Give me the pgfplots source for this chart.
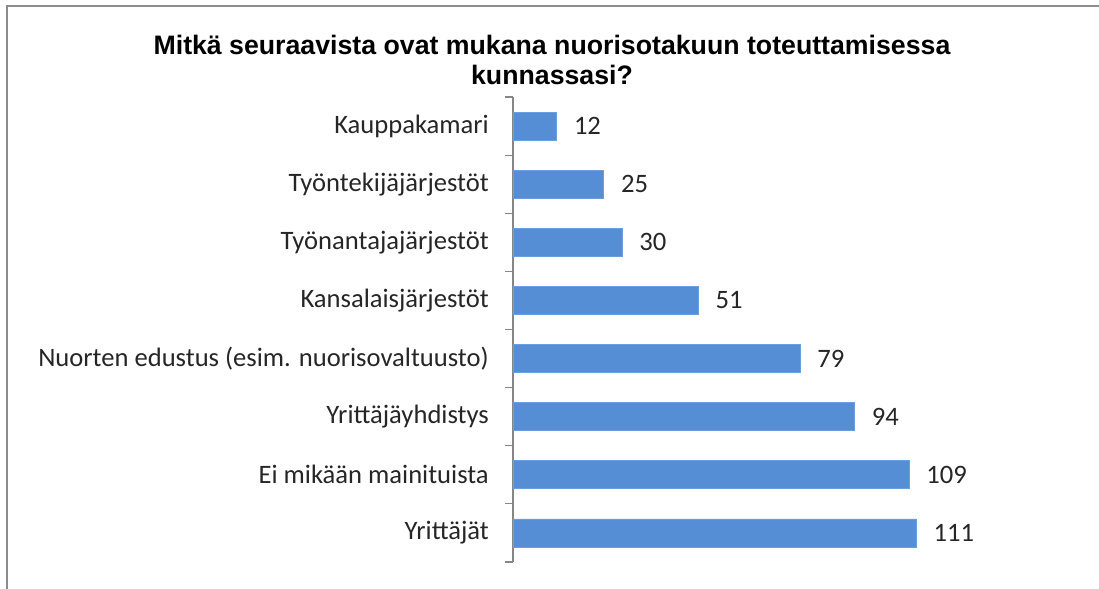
\documentclass[border=0pt]{standalone}
\usepackage{pgfplots}
\pgfplotsset{compat=1.18}
\usepackage{fontspec}
\setmainfont{Carlito}
\newfontfamily\titlefont{Liberation Sans}
\definecolor{barblue}{HTML}{558ED5}
\definecolor{baredge}{HTML}{6A9EDC}
\definecolor{axgray}{HTML}{868686}
\definecolor{framegray}{HTML}{8C8C8C}
\begin{document}
\begin{tikzpicture}[x=1bp,y=1bp]
\path[use as bounding box] (0,0) rectangle (1099,589);
\draw[framegray,line width=2.2bp] (7,0) -- (7,583) -- (1099,583);
\node[font=\titlefont\bfseries\fontsize{26.8}{31}\selectfont, align=center] at (552,529) {Mitkä seuraavista ovat mukana nuorisotakuun toteuttamisessa\\kunnassasi?};
\begin{axis}[
  at={(513bp,27bp)}, anchor=south west,
  scale only axis, width=436bp, height=465bp,
  xbar, bar width=28bp,
  xmin=0, xmax=120,
  ymin=-0.5, ymax=7.5, y dir=reverse,
  hide x axis,
  axis y line*=left,
  axis line style={axgray, line width=1.2bp},
  ytick={0,...,7},
  yticklabels={Kauppakamari,Työntekijäjärjestöt,Työnantajajärjestöt,Kansalaisjärjestöt,Nuorten edustus (esim. nuorisovaltuusto),Yrittäjäyhdistys,Ei mikään mainituista,Yrittäjät},
  major tick length=0pt,
  minor ytick={-0.5,0.5,...,7.5},
  minor tick length=8bp,
  tick align=outside,
  minor tick style={axgray, line width=1.2bp},
  yticklabel style={font=\fontsize{26.7}{30}\selectfont, inner sep=0pt, xshift=-24bp, text=black!85},
  /pgf/number format/assume math mode=true,
  nodes near coords,
  every node near coord/.append style={font=\fontsize{26.7}{30}\selectfont, anchor=west, inner sep=0pt, xshift=17bp, text=black!85},
]
\addplot[fill=barblue, draw=baredge, line width=0.8bp] coordinates {
(12,0) (25,1) (30,2) (51,3) (79,4) (94,5) (109,6) (111,7)
};
\end{axis}
\end{tikzpicture}
\end{document}
